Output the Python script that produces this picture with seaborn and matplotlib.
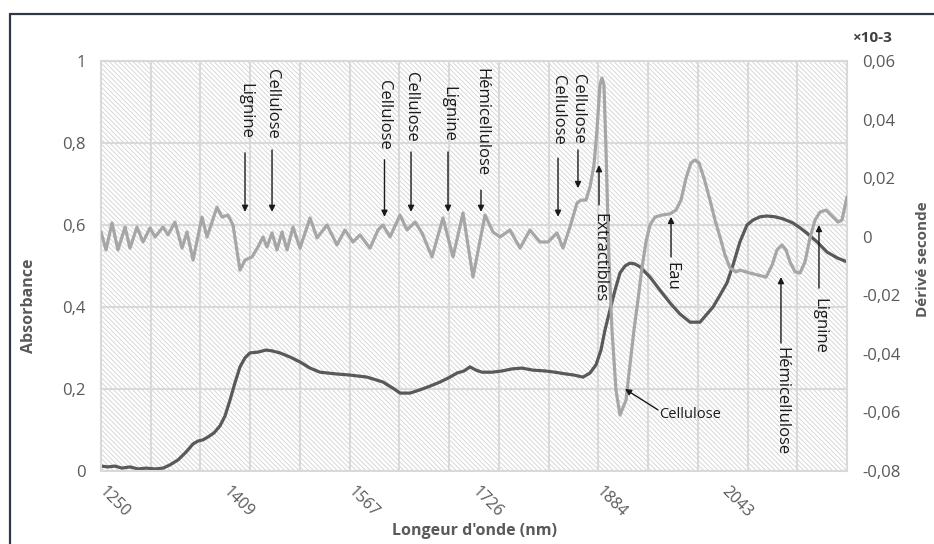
import numpy as np
import pandas as pd
import matplotlib
matplotlib.use("Agg")
import matplotlib.pyplot as plt
import seaborn as sns
from matplotlib.patches import Rectangle
from matplotlib.lines import Line2D

# ---------------- data ----------------
wl_abs = [1250.0, 1258.9, 1267.8, 1276.7, 1286.9, 1297.1, 1307.3, 1318.8, 1329.0, 1337.9,
          1348.1, 1358.2, 1367.2, 1373.5, 1379.9, 1386.3, 1393.9, 1401.5, 1407.9, 1414.3,
          1420.6, 1427.0, 1433.4, 1439.7, 1449.9, 1460.1, 1467.8, 1477.9, 1490.7, 1503.4,
          1516.2, 1528.9, 1548.0, 1567.1, 1588.7, 1609.1, 1621.8, 1630.8, 1643.5, 1656.2,
          1669.0, 1681.7, 1694.4, 1703.4, 1712.3, 1719.9, 1727.5, 1735.2, 1747.9, 1760.7,
          1773.4, 1786.1, 1800.1, 1815.4, 1828.1, 1840.9, 1852.3, 1863.8, 1872.7, 1880.4,
          1886.7, 1891.8, 1898.2, 1904.6, 1910.9, 1917.3, 1923.6, 1930.0, 1936.4, 1949.1,
          1961.9, 1974.6, 1987.3, 2000.1, 2012.8, 2029.4, 2038.3, 2047.2, 2054.8, 2063.7,
          2072.6, 2080.3, 2089.2, 2098.1, 2108.3, 2118.5, 2131.2, 2140.2, 2149.1, 2161.8,
          2174.6, 2187.3, 2200.0]
absorbance = [0.012, 0.010, 0.012, 0.007, 0.010, 0.005, 0.007, 0.005, 0.007, 0.015,
              0.027, 0.046, 0.066, 0.073, 0.076, 0.083, 0.093, 0.110, 0.134, 0.173,
              0.215, 0.254, 0.276, 0.288, 0.290, 0.295, 0.293, 0.288, 0.278, 0.266,
              0.251, 0.241, 0.237, 0.234, 0.229, 0.217, 0.202, 0.190, 0.190, 0.198,
              0.207, 0.217, 0.229, 0.239, 0.244, 0.254, 0.246, 0.241, 0.241, 0.244,
              0.249, 0.251, 0.246, 0.244, 0.241, 0.237, 0.234, 0.229, 0.239, 0.259,
              0.295, 0.344, 0.393, 0.441, 0.483, 0.500, 0.507, 0.505, 0.498, 0.473,
              0.441, 0.410, 0.383, 0.363, 0.363, 0.400, 0.429, 0.459, 0.502, 0.559,
              0.600, 0.612, 0.620, 0.622, 0.620, 0.615, 0.605, 0.593, 0.580, 0.559,
              0.534, 0.520, 0.510]

wl_der = [1250.0, 1256.4, 1264.0, 1271.6, 1280.6, 1286.9, 1295.8, 1303.5, 1312.4, 1318.8,
          1329.0, 1335.3, 1344.2, 1353.2, 1359.5, 1367.2, 1378.6, 1385.0, 1397.7, 1404.1,
          1411.7, 1418.1, 1427.0, 1433.4, 1442.3, 1449.9, 1456.3, 1461.4, 1467.8, 1474.1,
          1480.5, 1486.9, 1494.5, 1503.4, 1516.2, 1525.1, 1537.8, 1550.5, 1560.7, 1570.9,
          1579.8, 1592.6, 1602.8, 1609.1, 1618.0, 1630.8, 1639.7, 1649.9, 1658.8, 1671.5,
          1685.5, 1698.3, 1711.0, 1723.7, 1739.0, 1749.2, 1758.1, 1770.8, 1783.6, 1796.3,
          1809.0, 1819.2, 1830.7, 1838.3, 1847.2, 1856.2, 1861.3, 1867.6, 1872.7, 1877.8,
          1881.6, 1885.4, 1888.0, 1890.5, 1893.1, 1896.9, 1900.7, 1905.8, 1910.9, 1918.6,
          1923.6, 1928.7, 1933.8, 1938.9, 1944.0, 1949.1, 1955.5, 1964.4, 1974.6, 1982.2,
          1988.6, 1995.0, 2001.3, 2006.4, 2011.5, 2017.9, 2025.5, 2031.9, 2038.3, 2044.6,
          2051.0, 2058.6, 2063.7, 2076.5, 2086.7, 2096.9, 2104.6, 2110.9, 2117.3, 2122.3,
          2127.4, 2133.8, 2140.2, 2146.5, 2152.9, 2159.3, 2165.6, 2173.3, 2180.9, 2188.6,
          2193.6, 2200.0]
derivative = [0.0016, -0.0045, 0.0047, -0.0045, 0.0033, -0.0039, 0.0033, -0.0018, 0.0030, -0.0001,
              0.0033, 0.0006, 0.0050, -0.0039, 0.0016, -0.0080, 0.0067, -0.0001, 0.0101, 0.0067,
              0.0074, 0.0040, -0.0114, -0.0080, -0.0069, -0.0035, -0.0001, -0.0035, 0.0013, -0.0045,
              0.0016, -0.0045, 0.0033, -0.0039, 0.0064, -0.0004, 0.0040, -0.0028, 0.0023, -0.0018,
              0.0006, -0.0039, 0.0023, 0.0040, -0.0001, 0.0074, 0.0023, 0.0050, 0.0013, -0.0069,
              0.0064, -0.0069, 0.0081, -0.0138, 0.0074, 0.0016, -0.0001, 0.0023, -0.0039, 0.0023,
              -0.0018, -0.0018, 0.0013, -0.0039, 0.0033, 0.0115, 0.0125, 0.0125, 0.0170, 0.0245,
              0.0364, 0.0518, 0.0542, 0.0518, 0.0296, -0.0080, -0.0319, -0.0523, -0.0609, -0.0558,
              -0.0438, -0.0319, -0.0216, -0.0107, -0.0018, 0.0040, 0.0067, 0.0074, 0.0078, 0.0091,
              0.0125, 0.0200, 0.0252, 0.0262, 0.0252, 0.0200, 0.0125, 0.0057, -0.0001, -0.0062,
              -0.0107, -0.0120, -0.0114, -0.0124, -0.0131, -0.0138, -0.0097, -0.0045, -0.0028, -0.0045,
              -0.0086, -0.0120, -0.0124, -0.0086, -0.0004, 0.0057, 0.0084, 0.0091, 0.0071, 0.0050,
              0.0057, 0.0136]

x_tick_labels = ["1250", "1409", "1567", "1726", "1884", "2043"]
left_ticks = [0, 0.2, 0.4, 0.6, 0.8, 1.0]
left_tick_labels = ["0", "0,2", "0,4", "0,6", "0,8", "1"]
right_ticks = [-0.08, -0.06, -0.04, -0.02, 0, 0.02, 0.04, 0.06]
right_tick_labels = ["-0,08", "-0,06", "-0,04", "-0,02", "0", "0,02", "0,04", "0,06"]

# annotations: (label, wavelength, text top, arrow tail, arrow head) in absorbance units
top_notes = [
    ("Lignine", 1433.4, 0.946, 0.776, 0.632),
    ("Cellulose", 1467.8, 0.980, 0.783, 0.632),
    ("Cellulose", 1611.0, 0.954, 0.759, 0.620),
    ("Cellulose", 1644.8, 0.973, 0.778, 0.632),
    ("Lignine", 1691.9, 0.939, 0.778, 0.632),
    ("Hémicellulose", 1733.9, 0.983, 0.685, 0.632),
    ("Cellulose", 1832.0, 0.966, 0.763, 0.620),
    ("Cellulose", 1857.4, 0.968, 0.783, 0.690),
]
bottom_notes = [
    ("Extractibles", 1884.2, 0.629, 0.649, 0.746),
    ("Eau", 1975.9, 0.510, 0.522, 0.620),
    ("Hémicellulose", 2115.9, 0.302, 0.312, 0.473),
    ("Lignine", 2164.3, 0.422, 0.446, 0.600),
]

# ---------------- style ----------------
sns.set_style("white")
plt.rcParams["font.family"] = ["Open Sans", "DejaVu Sans"]
plt.rcParams["hatch.linewidth"] = 0.6

GRID = "#d9d9d9"
TICKC = "#595959"

fig = plt.figure(figsize=(9.34, 5.44), dpi=100)
ax = fig.add_axes([101 / 934, 73 / 544, 746 / 934, 410 / 544])
ax2 = ax.twinx()

# hatched plot-area background
ax.add_patch(Rectangle((0, 0), 1, 1, transform=ax.transAxes, facecolor="white",
                       edgecolor="#d2d2d2", hatch="\\" * 7, linewidth=0, zorder=0))

df_abs = pd.DataFrame({"wl": wl_abs, "A": absorbance})
df_der = pd.DataFrame({"wl": wl_der, "D": derivative})
sns.lineplot(data=df_abs, x="wl", y="A", ax=ax, color="#595959", lw=2.3)
sns.lineplot(data=df_der, x="wl", y="D", ax=ax2, color="#a6a6a6", lw=2.3)

ax.set_xlim(1250, 2200)
ax.set_ylim(0, 1)
ax2.set_ylim(-0.08, 0.06)

# x axis: labels every ~158.6 nm, gridlines/ticks every 950/15 nm
ax.set_xticks([float(v) for v in x_tick_labels])
ax.set_xticklabels(x_tick_labels)
ax.set_xticks(np.linspace(1250, 2200, 16), minor=True)
ax.set_axisbelow(True)
ax.xaxis.grid(False, which="major")
ax.xaxis.grid(True, which="minor", color=GRID, lw=1.5)
ax.yaxis.grid(True, which="major", color=GRID, lw=1.5)
ax.tick_params(axis="x", which="major", length=0, labelsize=11.5, labelcolor=TICKC, pad=13)
ax.tick_params(axis="x", which="minor", length=6, width=1.5, color=GRID, direction="out")
for lbl in ax.get_xticklabels():
    lbl.set_rotation(-45)
    lbl.set_ha("left")
    lbl.set_va("center")
    lbl.set_rotation_mode("anchor")

ax.set_yticks(left_ticks)
ax.set_yticklabels(left_tick_labels)
ax.tick_params(axis="y", length=0, labelsize=12, labelcolor=TICKC, pad=11)
ax2.set_yticks(right_ticks)
ax2.set_yticklabels(right_tick_labels)
ax2.tick_params(axis="y", length=0, labelsize=12, labelcolor=TICKC, pad=11)

for s in ax.spines.values():
    s.set_color(GRID)
    s.set_linewidth(1.5)
for s in ax2.spines.values():
    s.set_visible(False)

ax.set_xlabel("Longeur d'onde (nm)", fontsize=11.5, fontweight="bold", color=TICKC)
ax.xaxis.set_label_coords(0.501, -0.127)
ax.set_ylabel("Absorbance", fontsize=11.5, fontweight="bold", color=TICKC)
ax.yaxis.set_label_coords(-0.0858, 0.402)
ax2.set_ylabel("Dérivé seconde", fontsize=11, fontweight="bold", color=TICKC)
ax2.yaxis.set_label_coords(1.0925, 0.517)

fig.text(852 / 934, 1 - 38 / 544, "×10-3", fontsize=11, fontweight="bold",
         color="#404040", ha="left", va="center")

# annotations
arrow_kw = dict(arrowstyle="-|>", color="#1a1a1a", lw=1.0, mutation_scale=9,
                shrinkA=0, shrinkB=0)
for label, x, ttop, tail, head in top_notes + bottom_notes:
    ax2.text(x, ttop, label, transform=ax.transData, rotation=-90, ha="center",
             va="top", fontsize=12, color="#1a1a1a", zorder=5)
    ax2.annotate("", xy=(x, head), xytext=(x, tail), xycoords=ax.transData,
                 textcoords=ax.transData, arrowprops=arrow_kw, zorder=5)

ax2.text(1960.6, 0.137, "Cellulose", transform=ax.transData, ha="left", va="center",
         fontsize=10.5, color="#1a1a1a", zorder=5)
ax2.annotate("", xy=(1917.3, 0.200), xytext=(1959.3, 0.149), xycoords=ax.transData,
             textcoords=ax.transData, arrowprops=arrow_kw, zorder=5)

# outer chart frame (left and top edges visible)
fig.add_artist(Line2D([10 / 934, 10 / 934], [0, 1 - 14 / 544], transform=fig.transFigure,
                      color="#2d3945", lw=1.6))
fig.add_artist(Line2D([10 / 934, 1], [1 - 14 / 544, 1 - 14 / 544], transform=fig.transFigure,
                      color="#2d3945", lw=1.6))

fig.savefig("out.png", dpi=100, facecolor="white")
